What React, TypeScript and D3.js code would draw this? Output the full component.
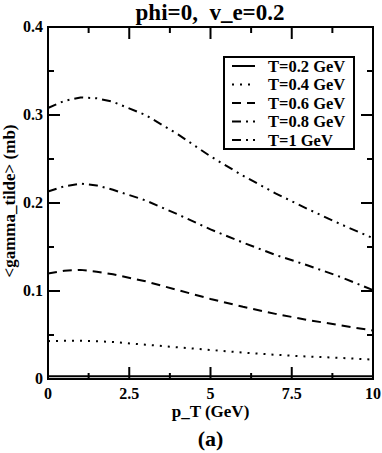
import React, { useRef, useEffect } from "react";
import * as d3 from "d3";

const ptValues = [0, 0.5, 1, 1.5, 2, 3, 4, 5, 6, 7, 8, 9, 10];
const seriesNames = ["T=0.2 GeV", "T=0.4 GeV", "T=0.6 GeV", "T=0.8 GeV", "T=1 GeV"];
const t02 = [0.003, 0.003, 0.003, 0.003, 0.003, 0.003, 0.003, 0.003, 0.003, 0.003, 0.003, 0.003, 0.003];
const t04 = [0.043, 0.0435, 0.0435, 0.043, 0.042, 0.039, 0.036, 0.033, 0.030, 0.0275, 0.0255, 0.024, 0.022];
const t06 = [0.120, 0.123, 0.124, 0.122, 0.119, 0.111, 0.101, 0.091, 0.082, 0.074, 0.067, 0.061, 0.055];
const t08 = [0.213, 0.219, 0.222, 0.220, 0.215, 0.203, 0.187, 0.170, 0.155, 0.141, 0.129, 0.116, 0.101];
const t10 = [0.308, 0.316, 0.320, 0.319, 0.315, 0.300, 0.278, 0.253, 0.231, 0.211, 0.193, 0.176, 0.160];
const dashes = ["none", "2,6", "9,6", "9,5,2,5", "9,5,2,5,2,5"];
const xTicks = [0, 2.5, 5, 7.5, 10];
const yTicks = [0, 0.1, 0.2, 0.3, 0.4];

const App = () => {
  const svgRef = useRef<SVGSVGElement>(null);

  const W = 382, H = 453;
  const margin = { top: 27, right: 9, bottom: 74, left: 48 };
  const width = W - margin.left - margin.right;
  const height = H - margin.top - margin.bottom;

  useEffect(() => {
    const svg = d3.select(svgRef.current);
    svg.selectAll("*").remove();
    const font = "'Liberation Serif', 'Times New Roman', serif";

    const g = svg.append("g").attr("transform", `translate(${margin.left},${margin.top})`);

    const x = d3.scaleLinear().domain([0, 10]).range([0, width]);
    const y = d3.scaleLinear().domain([0, 0.4]).range([height, 0]);

    // ticks on all four sides, pointing in
    const xMinor = d3.range(0, 10.01, 1.25);
    const yMinor = d3.range(0, 0.401, 0.05);
    const tickG = g.append("g").attr("stroke", "#000").attr("stroke-width", 2);
    xMinor.forEach(v => {
      const major = Math.abs(v / 2.5 - Math.round(v / 2.5)) < 1e-6;
      const len = major ? 12 : 6;
      tickG.append("line").attr("x1", x(v)).attr("x2", x(v)).attr("y1", height).attr("y2", height - len);
      tickG.append("line").attr("x1", x(v)).attr("x2", x(v)).attr("y1", 0).attr("y2", len);
    });
    yMinor.forEach(v => {
      const major = Math.abs(v / 0.1 - Math.round(v / 0.1)) < 1e-6;
      const len = major ? 12 : 6;
      tickG.append("line").attr("y1", y(v)).attr("y2", y(v)).attr("x1", 0).attr("x2", len);
      tickG.append("line").attr("y1", y(v)).attr("y2", y(v)).attr("x1", width).attr("x2", width - len);
    });

    g.selectAll(".xlab")
      .data(xTicks)
      .enter()
      .append("text")
      .attr("x", d => x(d))
      .attr("y", height + 20)
      .attr("text-anchor", "middle")
      .style("font-family", font)
      .style("font-weight", "bold")
      .style("font-size", "16px")
      .text(d => d3.format("")(d));

    g.selectAll(".ylab")
      .data(yTicks)
      .enter()
      .append("text")
      .attr("x", -5)
      .attr("y", d => y(d) + 5)
      .attr("text-anchor", "end")
      .style("font-family", font)
      .style("font-weight", "bold")
      .style("font-size", "16px")
      .text(d => d3.format("")(d));

    const allSeries = [t02, t04, t06, t08, t10];
    const line = d3.line<number>()
      .x((_, i) => x(ptValues[i]))
      .y(d => y(d));

    allSeries.forEach((s, i) => {
      g.append("path")
        .datum(s)
        .attr("d", line)
        .attr("fill", "none")
        .attr("stroke", "#000")
        .attr("stroke-width", 2)
        .attr("stroke-dasharray", dashes[i]);
    });

    g.append("rect")
      .attr("width", width)
      .attr("height", height)
      .attr("fill", "none")
      .attr("stroke", "#000")
      .attr("stroke-width", 2);

    // legend
    const lg = g.append("g").attr("transform", `translate(${224 - margin.left},${57 - margin.top})`);
    lg.append("rect")
      .attr("width", 130)
      .attr("height", 92)
      .attr("fill", "#fff")
      .attr("stroke", "#000")
      .attr("stroke-width", 2);
    seriesNames.forEach((name, i) => {
      const ly = 9 + i * 18.5;
      lg.append("line")
        .attr("x1", 8).attr("x2", 31)
        .attr("y1", ly).attr("y2", ly)
        .attr("stroke", "#000")
        .attr("stroke-width", 2)
        .attr("stroke-dasharray", dashes[i]);
      lg.append("text")
        .attr("x", 44)
        .attr("y", ly + 5.5)
        .style("font-family", font)
        .style("font-weight", "bold")
        .style("font-size", "16.5px")
        .text(name);
    });

    svg.append("text")
      .attr("x", 210)
      .attr("y", 20)
      .attr("text-anchor", "middle")
      .style("font-family", font)
      .style("font-weight", "bold")
      .style("font-size", "23px")
      .style("white-space", "pre")
      .text("phi=0,  v_e=0.2");

    svg.append("text")
      .attr("x", margin.left + width / 2)
      .attr("y", 417)
      .attr("text-anchor", "middle")
      .style("font-family", font)
      .style("font-weight", "bold")
      .style("font-size", "17px")
      .text("p_T (GeV)");

    svg.append("text")
      .attr("x", margin.left + width / 2)
      .attr("y", 446)
      .attr("text-anchor", "middle")
      .style("font-family", font)
      .style("font-weight", "bold")
      .style("font-size", "22px")
      .text("(a)");

    svg.append("text")
      .attr("transform", "rotate(-90)")
      .attr("x", -(margin.top + height / 2) + 2)
      .attr("y", 15)
      .attr("text-anchor", "middle")
      .style("font-family", font)
      .style("font-weight", "bold")
      .style("font-size", "17px")
      .text("<gamma_tilde> (mb)");
  }, []);

  return (
    <svg ref={svgRef} width={W} height={H} style={{ position: "absolute", left: 0, top: 0, background: "#fff" }}></svg>
  );
};

export default App;
